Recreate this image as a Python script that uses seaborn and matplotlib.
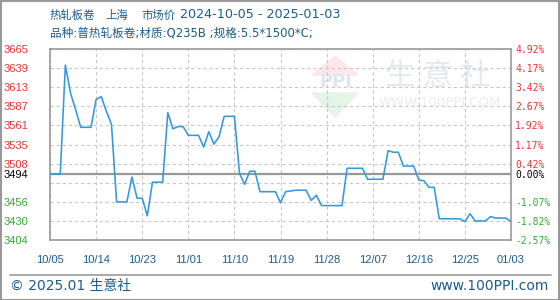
import numpy as np
import pandas as pd
import matplotlib
matplotlib.use("Agg")
import matplotlib.pyplot as plt
import seaborn as sns
from matplotlib.patches import Polygon, Rectangle
from matplotlib.lines import Line2D

# ---------------- data ----------------
start_date = "2024-10-05"
prices = [3494, 3494, 3494, 3643, 3605, 3582, 3558, 3558, 3558, 3596,
          3600, 3580, 3562, 3456, 3456, 3456, 3490, 3461, 3461, 3437,
          3483, 3483, 3483, 3578, 3556, 3559, 3559, 3547, 3547, 3547,
          3531, 3552, 3535, 3545, 3573, 3573, 3573, 3495, 3480, 3498,
          3498, 3470, 3470, 3470, 3470, 3455, 3470, 3471, 3472, 3472,
          3472, 3458, 3465, 3451, 3451, 3451, 3451, 3451, 3502, 3502,
          3502, 3502, 3487, 3487, 3487, 3487, 3526, 3524, 3524, 3505,
          3505, 3505, 3486, 3485, 3476, 3476, 3433, 3433, 3433, 3433,
          3433, 3429, 3440, 3430, 3430, 3430, 3436, 3434, 3434, 3434,
          3429]
base_price = 3494
x_tick_labels = ["10/05", "10/14", "10/23", "11/01", "11/10", "11/19",
                 "11/28", "12/07", "12/16", "12/25", "01/03"]
y_tick_values = [3404, 3430.1, 3456.2, 3482.3, 3508.4, 3534.5, 3560.6,
                 3586.7, 3612.8, 3638.9, 3665]
y_left_labels = ["3404", "3430", "3456", "", "3508", "3535", "3561",
                 "3587", "3613", "3639", "3665"]
y_right_labels = ["-2.57%", "-1.82%", "-1.07%", "", "0.42%", "1.17%",
                  "1.92%", "2.67%", "3.42%", "4.17%", "4.92%"]
base_left_label = "3494"
base_right_label = "0.00%"

dates = pd.date_range(start_date, periods=len(prices), freq="D")
df = pd.DataFrame({"day": np.arange(len(prices)), "date": dates, "price": prices})

# ---------------- style ----------------
sns.set_style("white")
plt.rcParams["font.family"] = ["DejaVu Sans", "Noto Sans CJK SC"]

W, H = 560, 300
fig = plt.figure(figsize=(W / 100, H / 100), dpi=100)
ax = fig.add_axes([50 / W, 60 / H, 461 / W, 191 / H])

TXT = "#1c5b8c"
RED = "#ee3333"
GREEN = "#33aa33"
GRID = "#c8c8c8"
AXC = "#999999"

def fx(px):
    return px / W
def fy(py):
    return 1 - py / H

# watermark (behind data)
fig.add_artist(Polygon([[fx(312), fy(75)], [fx(335), fy(56)], [fx(358), fy(75)]],
                       closed=True, transform=fig.transFigure, color="#fce8e8", zorder=0.5))
fig.add_artist(Polygon([[fx(312), fy(93)], [fx(358), fy(93)], [fx(335), fy(117)]],
                       closed=True, transform=fig.transFigure, color="#e4f4e6", zorder=0.5))
fig.text(fx(336), fy(82), "PPI", ha="center", va="center", fontsize=13,
         fontweight="bold", color="#e0e5f0", zorder=0.6)
fig.text(fx(438), fy(76), "生 意 社", ha="center", va="center", fontsize=22,
         family=["Noto Sans CJK SC"], color="#e4e8f0", zorder=0.6)
fig.text(fx(440), fy(102), "WWW.100PPI.COM", ha="center", va="center", fontsize=9.5,
         color="#ececec", zorder=0.6)

ax.patch.set_alpha(0)
ax.set_zorder(2)

# line
sns.lineplot(data=df, x="day", y="price", ax=ax, color="#3399dd", lw=1.15, zorder=3)
ax.axhline(base_price, color=AXC, lw=1.6, zorder=2)

ax.set_xlim(0, len(prices) - 1)
ax.set_ylim(y_tick_values[0], y_tick_values[-1])
ax.set_xlabel("")
ax.set_ylabel("")

# x ticks
xt = np.arange(0, len(prices), 9)
ax.set_xticks(xt)
ax.set_xticklabels(x_tick_labels, color=TXT, fontsize=8,
                   family=["Liberation Sans", "DejaVu Sans"])
ax.tick_params(axis="x", length=0, pad=11)

# y ticks left
yt = list(y_tick_values) + [base_price]
ax.set_yticks(yt)
ax.set_yticklabels(list(y_left_labels) + [base_left_label], fontsize=8,
                   family=["Liberation Sans", "DejaVu Sans"])
ax.tick_params(axis="y", length=0, pad=15.5)
for lab, v in zip(ax.get_yticklabels(), yt):
    lab.set_color("black" if v == base_price else (RED if v > base_price else GREEN))

ax.grid(True, color=GRID, lw=0.8, ls=(0, (3, 2.5)))
for s in ax.spines.values():
    s.set_color(AXC)
    s.set_linewidth(1.2)

# right axis
ax2 = ax.twinx()
ax2.set_ylim(ax.get_ylim())
ax2.set_yticks(yt)
ax2.set_yticklabels(list(y_right_labels) + [base_right_label], fontsize=7,
                    family=["DejaVu Sans Mono"])
ax2.tick_params(axis="y", length=0, pad=3)
for lab, v in zip(ax2.get_yticklabels(), yt):
    lab.set_color("black" if v == base_price else (RED if v > base_price else GREEN))
ax2.grid(False)
for s in ax2.spines.values():
    s.set_visible(False)

# titles
cjk = ["Noto Sans CJK SC", "DejaVu Sans"]
fig.text(fx(50), fy(15), "热轧板卷", fontsize=8.2, family=cjk, color=TXT, va="center")
fig.text(fx(105), fy(15), "上海", fontsize=8.2, family=cjk, color=TXT, va="center")
fig.text(fx(141), fy(15), "市场价", fontsize=8.2, family=cjk, color=TXT, va="center")
fig.text(fx(180), fy(15), "2024-10-05 - 2025-01-03", fontsize=9.2,
         family=["DejaVu Sans"], color=TXT, va="center")
fig.text(fx(50), fy(33), "品种:普热轧板卷;材质:Q235B ;规格:5.5*1500*C;", fontsize=8.4,
         family=["DejaVu Sans", "Noto Sans CJK SC"], color=TXT, va="center")

# footer
fig.add_artist(Line2D([fx(10), fx(551)], [fy(275), fy(275)], color=AXC, lw=1.2,
                      transform=fig.transFigure))
fig.text(fx(10), fy(286), "© 2025.01 生意社", fontsize=10,
         family=["DejaVu Sans", "Noto Sans CJK SC"], color=TXT, va="center")
fig.text(fx(549), fy(286), "www.100PPI.com", fontsize=10,
         family=["DejaVu Sans"], color=TXT, va="center", ha="right")

# outer border
fig.add_artist(Rectangle((0.5 / W, 0.5 / H), 1 - 1.5 / W, 1 - 1.5 / H, fill=False,
                         ec=AXC, lw=1.5, transform=fig.transFigure))

fig.savefig("out.png", dpi=100)
